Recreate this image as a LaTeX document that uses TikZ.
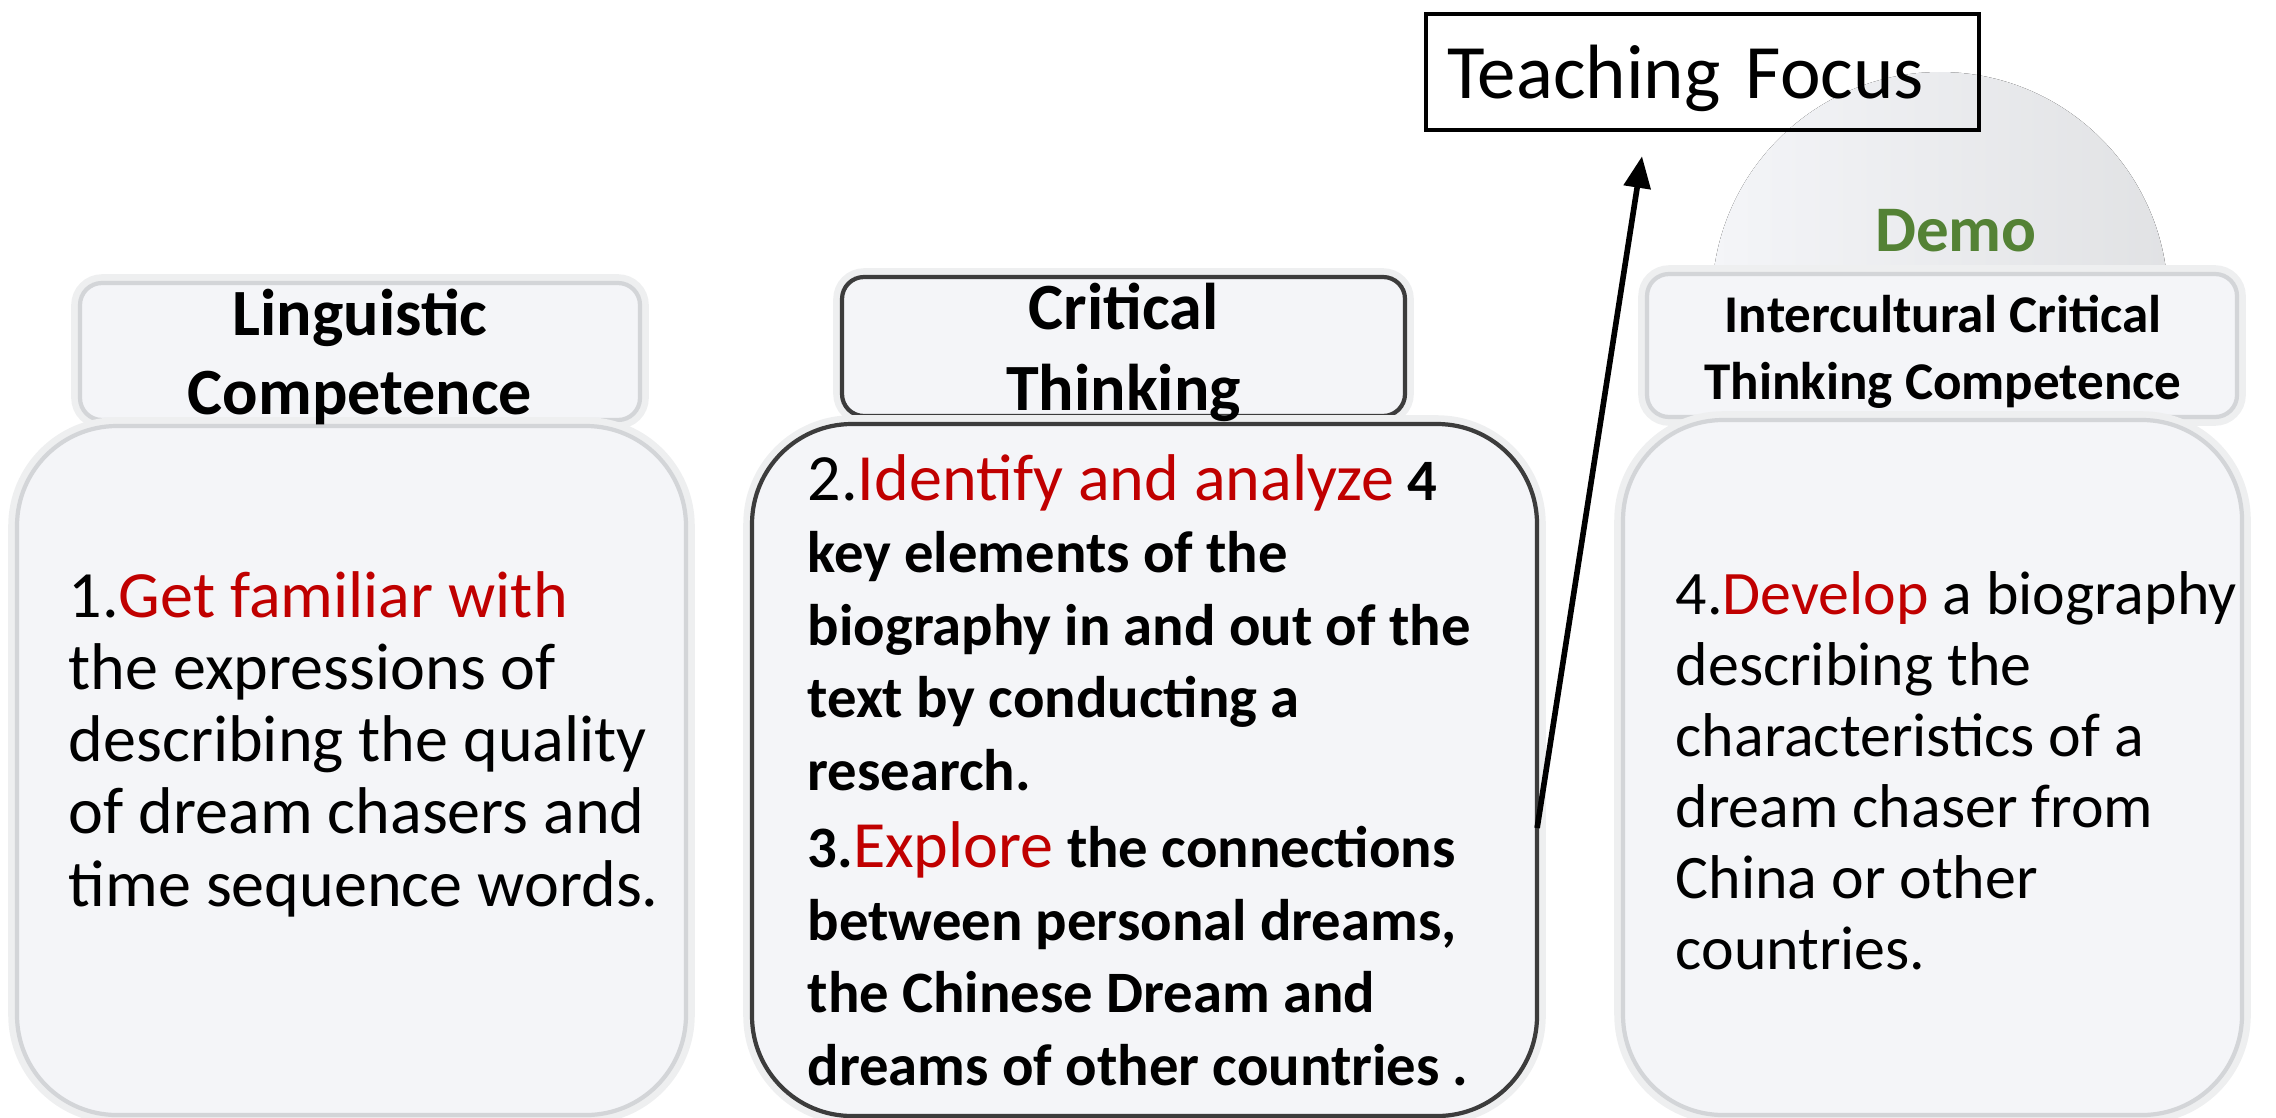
\documentclass[tikz,border=0pt]{standalone}
\usepackage{fontspec}
\setmainfont{Carlito}
\usepackage{xcolor}
\usetikzlibrary{positioning, calc, arrows.meta}
\definecolor{hlred}{RGB}{192,0,0}
\definecolor{demogreen}{RGB}{84,130,53}
\definecolor{boxfill}{RGB}{244,245,248}
\definecolor{boxedge}{RGB}{200,202,206}
\definecolor{boxline}{RGB}{60,60,60}
\newcommand{\plain}[1]{{\mdseries\fontsize{18.8}{20.6}\selectfont #1}}
\tikzset{
	>={Triangle[length=9pt,width=7.5pt]},
	box/.style={fill=boxfill, draw=boxedge!80, line width=1.2pt,
		preaction={draw=boxedge!30, line width=5pt}},
	headbox/.style={box, rounded corners=0.22cm},
	bodybox/.style={box, rounded corners=1cm},
	darkline/.style={draw=boxline, line width=1.2pt},
	headtext/.style={inner sep=0pt, align=center, anchor=base,
		font=\bfseries\fontsize{18.8}{22.2}\selectfont},
	bodytext/.style={inner sep=0pt, align=left, anchor=base west}
}

\begin{document}
\begin{tikzpicture}
	\useasboundingbox (0,0) rectangle (22.76,-11.17);
	% dome behind the last column
	\fill[left color=boxfill, right color=boxedge!55] (19.40,-3.00) circle (2.28);
	\node[font=\bfseries\fontsize{18.5}{22}\selectfont, text=demogreen, anchor=base, inner sep=0pt] (demo) at (19.56,-2.51) {Demo};

	% boxes
	\node[headbox, minimum width=5.60cm, minimum height=1.37cm] (lhead) at (3.60,-3.515) {};
	\node[bodybox, minimum width=6.69cm, minimum height=6.89cm] (lbody) at (3.515,-7.705) {};
	\node[headbox, darkline, minimum width=5.63cm, minimum height=1.39cm] (chead) at (11.235,-3.465) {};
	\node[bodybox, darkline, minimum width=7.85cm, minimum height=6.92cm] (cbody) at (11.445,-7.70) {};
	\node[headbox, minimum width=5.90cm, minimum height=1.43cm] (ihead) at (19.42,-3.455) {};
	\node[bodybox, minimum width=6.19cm, minimum height=6.95cm] (ibody) at (19.325,-7.675) {};

	% titles (base = last line)
	\node[headtext] (ltitle) at (3.60,-4.14) {Linguistic\\Competence};
	\node[headtext, font=\bfseries\fontsize{18.8}{22.8}\selectfont] (ctitle) at (11.235,-4.10) {Critical\\Thinking};
	\node[headtext, font=\bfseries\fontsize{15.1}{18.8}\selectfont] (ititle) at (19.43,-3.99) {Intercultural Critical\\Thinking Competence};

	% texts
	\node[bodytext, font=\fontsize{18.8}{20.5}\selectfont] (ltext) at (0.68,-9.06)
	{1.\textcolor{hlred}{Get familiar with}\\the expressions of\\describing the quality\\of dream chasers and\\time sequence words.};
	\node[bodytext, font=\bfseries\fontsize{16.7}{20.6}\selectfont] (ctext) at (8.07,-10.85)
	{\plain{2.\textcolor{hlred}{Identify and analyze}} 4\\key elements of the\\biography in and out of the\\text by conducting a\\research.\\[1.5pt]3.\plain{\textcolor{hlred}{Explore}} the connections\\between personal dreams,\\the Chinese Dream and\\dreams of other countries .};
	\node[bodytext, font=\fontsize{17.6}{20.2}\selectfont] (itext) at (16.75,-9.69)
	{4.\textcolor{hlred}{Develop} a biography\\describing the\\characteristics of a\\dream chaser from\\China or other\\countries.};

	% teaching focus
	\node[draw=black, line width=1.2pt, minimum width=5.53cm, minimum height=1.16cm,
		text width=5.11cm, inner xsep=0.21cm, text depth=0pt, align=left,
		font=\fontsize{21.9}{26}\selectfont, anchor=north west] (focus) at (14.24,-0.12) {Teaching Focus};
	\coordinate (tip) at ($(focus.south west)+(2.18,-0.24)$);
	\draw[->, line width=1.6pt] ($(cbody.east)+(-0.02,-0.58)$) -- (tip);
\end{tikzpicture}
\end{document}
